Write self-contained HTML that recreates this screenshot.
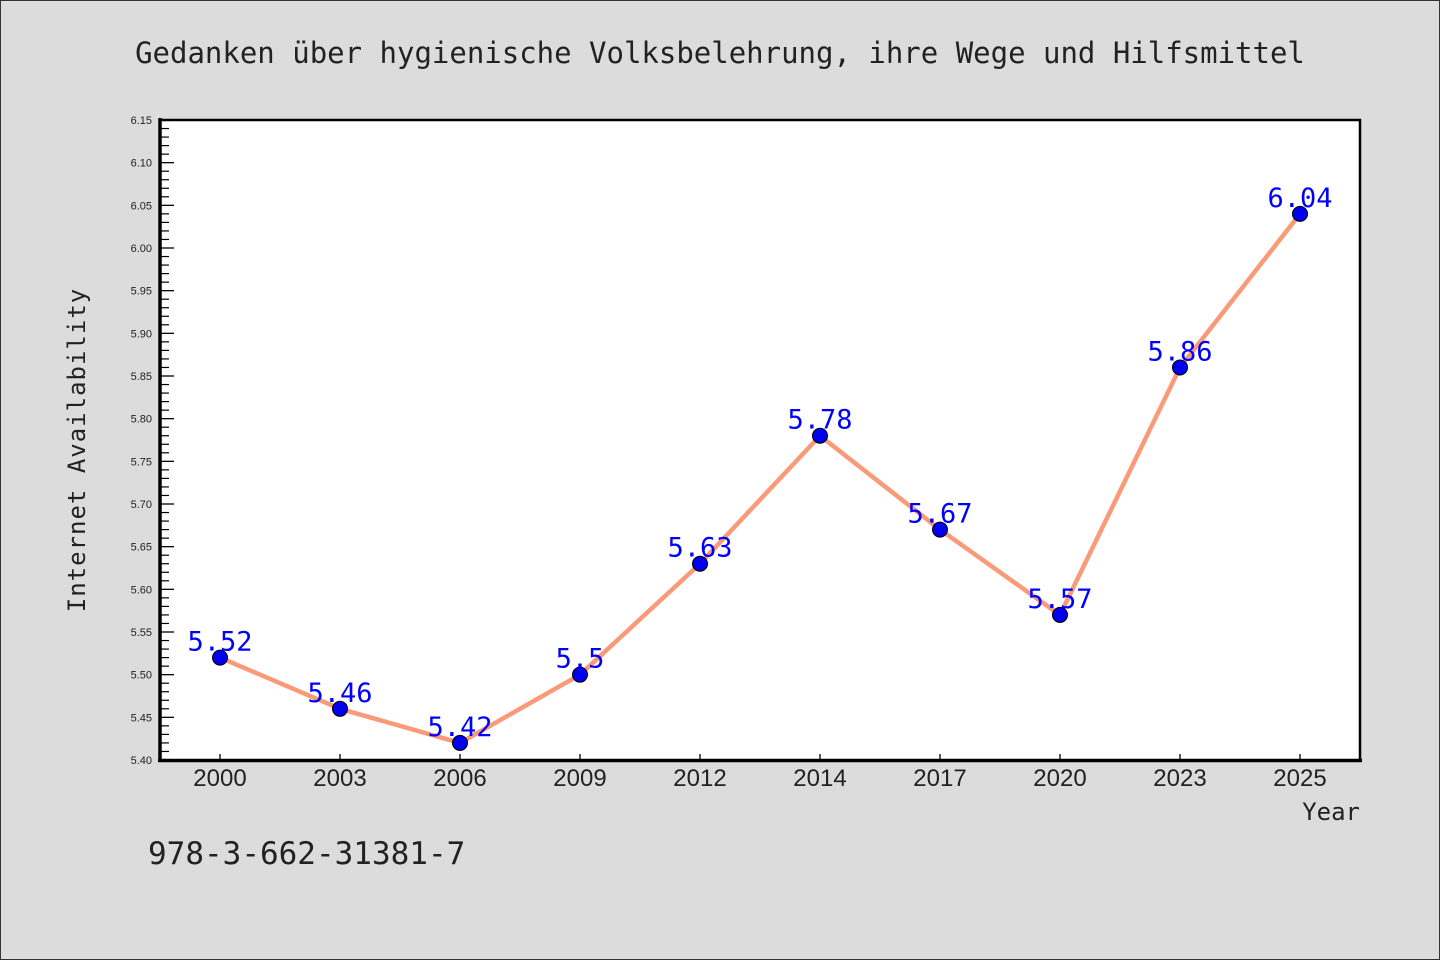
<!DOCTYPE html>
<html><head><meta charset="utf-8"><style>
html,body{margin:0;padding:0;background:#dcdcdc;}
svg{display:block;font-family:"Liberation Sans","DejaVu Sans",sans-serif;}
</style></head><body>
<svg id="chart" width="1440" height="960" viewBox="0 0 1440 960">
<rect x="0.5" y="0.5" width="1439" height="959" fill="#dcdcdc" stroke="#333"/>
<text x="720" y="63" text-anchor="middle" font-size="29" fill="#222" font-family="'DejaVu Sans Mono','Liberation Mono',monospace">Gedanken über hygienische Volksbelehrung, ihre Wege und Hilfsmittel</text>
<rect x="160" y="120" width="1200" height="640" fill="#fff"/>
<g id="grid"></g>
<g id="series"></g>
<path d="M160 120 H1360 V760" fill="none" stroke="#000" stroke-width="2.5"/>
<line x1="160" y1="118" x2="160" y2="762" stroke="#000" stroke-width="3.5"/>
<line x1="158" y1="760.5" x2="1362" y2="760.5" stroke="#000" stroke-width="3.5"/>
<text transform="translate(85,450) rotate(-90)" text-anchor="middle" font-size="24" fill="#222" font-family="'DejaVu Sans Mono','Liberation Mono',monospace" letter-spacing="1">Internet Availability</text>
<text x="1360" y="820" text-anchor="end" font-size="24" fill="#222" font-family="'DejaVu Sans Mono','Liberation Mono',monospace">Year</text>
<text x="148" y="864" font-size="31" fill="#222" font-family="'DejaVu Sans Mono','Liberation Mono',monospace">978-3-662-31381-7</text>
</svg>
<script>
const categories = ["2000","2003","2006","2009","2012","2014","2017","2020","2023","2025"];
const values = [5.52,5.46,5.42,5.5,5.63,5.78,5.67,5.57,5.86,6.04];
const valueLabels = ["5.52","5.46","5.42","5.5","5.63","5.78","5.67","5.57","5.86","6.04"];
const yTicks = ["5.40","5.45","5.50","5.55","5.60","5.65","5.70","5.75","5.80","5.85","5.90","5.95","6.00","6.05","6.10","6.15"];
const yMin = 5.40, yMax = 6.15;
const NS = "http://www.w3.org/2000/svg";
const X0 = 160, X1 = 1360, Y0 = 760, Y1 = 120;
function xPos(i){ return X0 + (X1 - X0) / categories.length * (i + 0.5); }
function yPos(v){ return Y0 - (v - yMin) / (yMax - yMin) * (Y0 - Y1); }
function mk(tag, attrs, parent){ const e = document.createElementNS(NS, tag); for (const k in attrs) e.setAttribute(k, attrs[k]); parent.appendChild(e); return e; }
const grid = document.getElementById('grid');
const series = document.getElementById('series');
// y ticks
for (let t = 0; t < yTicks.length; t++) {
  const v = parseFloat(yTicks[t]);
  const y = yPos(v);
  const tk = mk('line', {x1: X0, x2: X0 + 14, y1: y, y2: y, stroke: '#000', 'stroke-width': 1.3}, grid);
  
  
  const lb = mk('text', {x: X0 - 8, y: y + 4, 'text-anchor': 'end', 'font-size': 11, fill: '#222'}, grid);
  lb.textContent = yTicks[t];
  
  
  if (t < yTicks.length - 1) {
    for (let m = 1; m < 5; m++) {
      const ym = yPos(v + 0.01 * m);
      const mt = mk('line', {x1: X0, x2: X0 + 9, y1: ym, y2: ym, stroke: '#000', 'stroke-width': 1.2}, grid);
      
      
    }
  }
}
// x ticks
for (let i = 0; i < categories.length; i++) {
  const x = xPos(i);
  const tk = mk('line', {x1: x, x2: x, y1: Y0, y2: Y0 - 6, stroke: '#000', 'stroke-width': 1.3}, grid);
  
  
  const lb = mk('text', {x: x, y: Y0 + 26, 'text-anchor': 'middle', 'font-size': 24, fill: '#222'}, grid);
  lb.textContent = categories[i];
  
  
}
// line
const pts = values.map((v, i) => xPos(i) + ',' + yPos(v)).join(' ');
const pl = mk('polyline', {points: pts, fill: 'none', stroke: '#fa9a78', 'stroke-width': 4.5, 'stroke-linejoin': 'round'}, series);


for (let i = 0; i < values.length; i++) {
  const c = mk('circle', {cx: xPos(i), cy: yPos(values[i]), r: 7.5, fill: '#0000ee', stroke: '#000', 'stroke-width': 1}, series);
  
  
}
for (let i = 0; i < values.length; i++) {
  const t = mk('text', {x: xPos(i), y: yPos(values[i]) - 7, 'text-anchor': 'middle', 'font-size': 27, fill: '#0000ff', 'font-family': "'DejaVu Sans Mono','Liberation Mono',monospace"}, series);
  t.textContent = valueLabels[i];
  
  
}
</script>
</body></html>
